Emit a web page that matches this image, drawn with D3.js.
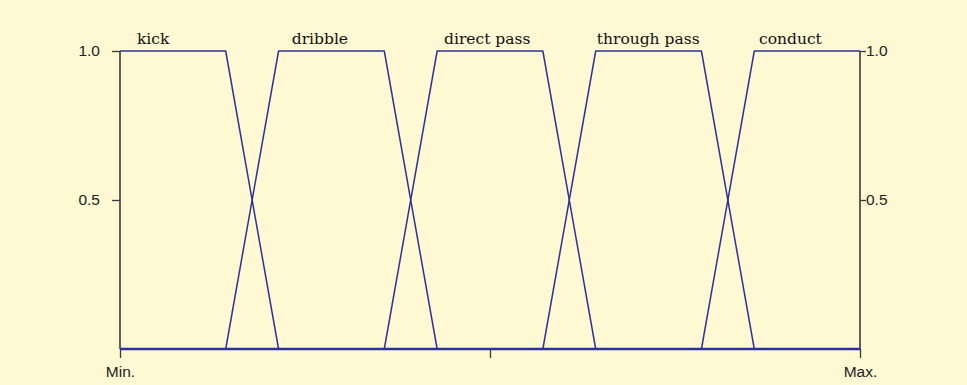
<!DOCTYPE html>
<html><head><meta charset="utf-8">
<script src="https://cdn.jsdelivr.net/npm/d3@7"></script>
<style>html,body{margin:0;padding:0;background:#fef8d3;}svg{display:block;}</style>
</head><body>
<svg id="c" width="967" height="385"></svg>
<script>
// Data
const sets = ["kick", "dribble", "direct pass", "through pass", "conduct"];
// trapezoid breakpoints (a, b, c, d) on 0..14 scale
const setA = [0, 2, 5, 8, 11];
const setB = [0, 3, 6, 9, 12];
const setC = [2, 5, 8, 11, 14];
const setD = [3, 6, 9, 12, 14];
const labelAt = [0.32, 3.25, 6.13, 9.02, 12.09];
const yTicks = [0.5, 1.0];
const yTickLabels = ["0.5", "1.0"];
const xTicks = [0, 7, 14];
const xTickLabels = ["Min.", "", "Max."];

const svg = d3.select("#c");
svg.append("rect").attr("width", 967).attr("height", 385).attr("fill", "#fef8d3");

const x = d3.scaleLinear().domain([0, 14]).range([120, 860]);
const y = d3.scaleLinear().domain([0, 1]).range([349, 51]);

const lineCol = "#30309a";
const axisCol = "#3a3a3a";

// axes
const gL = svg.append("g").attr("transform", "translate(120,0)")
  .call(d3.axisLeft(y).tickValues(yTicks).tickFormat((d, i) => yTickLabels[i]).tickSize(8).tickPadding(12));
const gR = svg.append("g").attr("transform", "translate(860,0)")
  .call(d3.axisRight(y).tickValues(yTicks).tickFormat((d, i) => yTickLabels[i]).tickSize(6).tickPadding(0));
const gB = svg.append("g").attr("transform", "translate(0,349)")
  .call(d3.axisBottom(x).tickValues(xTicks).tickFormat((d, i) => xTickLabels[i]).tickSize(9).tickPadding(8));
[gL, gR, gB].forEach(g => {
  g.select(".domain").remove();
  g.selectAll("line").attr("stroke", axisCol).attr("stroke-width", 1.3);
  g.selectAll("text").attr("fill", "#222").style("font-family", "'Liberation Sans', Arial, sans-serif").style("font-size", "15.5px");
});
// vertical axis lines
svg.append("line").attr("x1", 120).attr("x2", 120).attr("y1", y(1)).attr("y2", y(0))
  .attr("stroke", axisCol).attr("stroke-width", 1.6);
svg.append("line").attr("x1", 860).attr("x2", 860).attr("y1", y(1)).attr("y2", y(0))
  .attr("stroke", axisCol).attr("stroke-width", 1.6);

// trapezoids
const line = d3.line().x(d => x(d[0])).y(d => y(d[1]));
sets.forEach((s, i) => {
  const pts = [[0, setA[i] === 0 && setB[i] === 0 ? 1 : 0]];
  if (!(setA[i] === 0 && setB[i] === 0)) { pts.push([setA[i], 0]); }
  pts.push([setB[i], 1], [setC[i], 1]);
  if (setD[i] !== setC[i]) { pts.push([setD[i], 0], [14, 0]); }
  svg.append("path").attr("d", line(pts)).attr("fill", "none")
    .attr("stroke", lineCol).attr("stroke-width", 1.5).attr("stroke-linejoin", "round");
});
// baseline
svg.append("line").attr("x1", x(0)).attr("x2", x(14)).attr("y1", y(0)).attr("y2", y(0))
  .attr("stroke", lineCol).attr("stroke-width", 2.6);

// labels
sets.forEach((s, i) => {
  svg.append("text").attr("x", x(labelAt[i])).attr("y", 44)
    .attr("fill", "#111").style("font-family", "'DejaVu Serif', serif")
    .style("font-size", "15.5px").text(s);
});
</script>
</body></html>
